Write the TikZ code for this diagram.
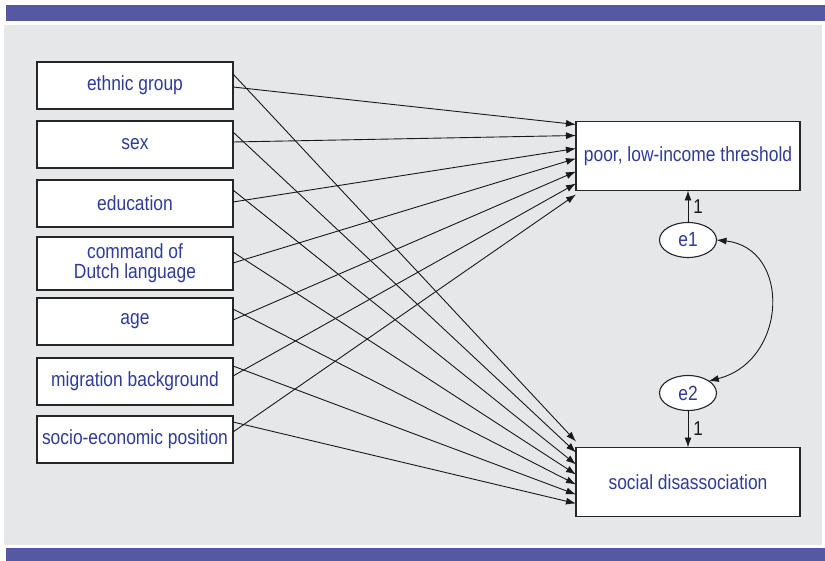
\documentclass[tikz,border=0pt]{standalone}
\usepackage{fontspec}
\setmainfont{Liberation Sans}[FakeStretch=0.85]
\usetikzlibrary{arrows.meta, positioning, calc, shapes.geometric}
\definecolor{barblue}{HTML}{5459A2}
\definecolor{panelgray}{HTML}{E6E7E9}
\definecolor{labelblue}{HTML}{2F3C96}

\begin{document}
\begin{tikzpicture}[
    x=1pt, y=-1pt,
    >={Latex[length=10pt,width=7pt]},
    node distance=12pt,
    var/.style={draw=black!85, line width=1.1pt, fill=white, text=labelblue, font=\fontsize{20.5}{20}\selectfont, align=center, inner sep=0pt, outer sep=0pt},
    cause/.style={var, minimum width=196pt, minimum height=47pt},
    outcome/.style={var, minimum width=224pt, minimum height=69pt},
    err/.style={var, ellipse, minimum width=57pt, minimum height=35pt},
    effect/.style={->, line width=0.9pt, black!90},
    wlabel/.style={font=\fontsize{20}{20}\selectfont, inner sep=1pt},
  ]
  \useasboundingbox (0,0) rectangle (825,561);
  % frame
  \fill[barblue] (6,5) rectangle (825,21);
  \fill[panelgray] (4,25) rectangle (822,545);
  \fill[barblue] (6,548) rectangle (825,561);
  % predictors
  \node[cause, anchor=north west] (ethnic) at (37,62) {ethnic group};
  \node[cause, below=12pt of ethnic] (sex) {sex};
  \node[cause, below=12pt of sex] (edu) {education};
  \node[cause, below=10pt of edu, minimum height=53pt] (dutch) {command of\\Dutch language};
  \node[cause, below=8pt of dutch] (age) {age};
  \node[cause, below=13pt of age] (migr) {migration background};
  \node[cause, below=11pt of migr] (ses) {socio-economic position};
  % outcomes and errors
  \node[outcome] (poor) at (688,156) {poor, low-income threshold};
  \node[err, below=32pt of poor] (e1) {e1};
  \node[err, below=118pt of e1] (e2) {e2};
  \node[outcome, below=37pt of e2] (social) {social disassociation};
  % paths
  \foreach \src/\a/\b/\c/\d in {ethnic/12/25/-6/3, sex/11/21/5/14, edu/10/22/17/27,
      dutch/15/26/27/37, age/11/22/37/50, migr/8/18/47/62, ses/6/16/56/73} {
    \draw[effect] ($(\src.north east)+(0,\a)$) -- ($(social.north west)+(0,\c)$);
    \draw[effect] ($(\src.north east)+(0,\b)$) -- ($(poor.north west)+(0,\d)$);
  }
  \draw[effect] (e1) -- node[wlabel, right=4pt] {1} (poor);
  \draw[effect] (e2) -- node[wlabel, right=4pt] {1} (social);
  \draw[effect, <->] (e1.east) .. controls +(75,8) and +(79,-20) .. (e2.30);
\end{tikzpicture}
\end{document}
